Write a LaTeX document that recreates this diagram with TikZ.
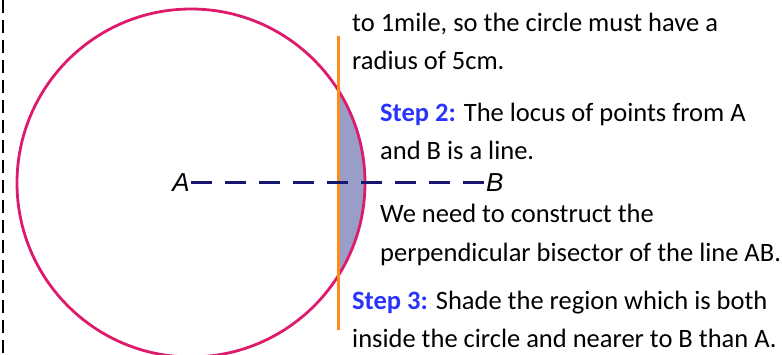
\documentclass[tikz,border=0pt]{standalone}
\usepackage{fontspec}
\setmainfont{Carlito}
\newfontfamily\labelfont{Liberation Sans}
\usetikzlibrary{positioning}

\definecolor{circpink}{RGB}{222,26,108}
\definecolor{bisorange}{RGB}{255,140,26}
\definecolor{shadeblue}{RGB}{152,158,200}
\definecolor{linenavy}{RGB}{22,22,112}
\definecolor{stepblue}{RGB}{40,52,250}

\tikzset{
  notes/.style={anchor=base west,inner sep=0pt,font=\fontsize{26.5}{30}\selectfont},
  ptlabel/.style={inner sep=1pt,font=\labelfont\itshape\fontsize{26}{30}\selectfont}
}

\begin{document}
\begin{tikzpicture}[x=1pt,y=-1pt]
  \useasboundingbox (0,0) rectangle (782,355);
  % margin line
  \draw[black,line width=2.6pt,dash pattern=on 13pt off 7pt] (3,0) -- (3,355);
  % points
  \node[ptlabel,anchor=east] (A) at (191,183) {A};
  \node[ptlabel,anchor=west] (B) at (485,183) {B};
  \coordinate (bistop) at (338,36);
  \coordinate (bisbot) at (338,330);
  % shaded region
  \begin{scope}
    \clip (338,0) rectangle (782,355);
    \fill[shadeblue] (A.east) circle (174pt);
  \end{scope}
  \draw[circpink,line width=2.8pt] (A.east) circle (174pt);
  \draw[bisorange,line width=3pt] (bistop) -- (bisbot);
  \draw[linenavy,line width=3pt,dash pattern=on 21pt off 13pt] (A.east) -- (B.west);
  % text
  \node[notes] (t1) at (352,32) {to 1mile, so the circle must have a};
  \node[notes] (t2) at (352,70) {radius of 5cm.};
  \node[notes] (t3) at (380,122) {\textcolor{stepblue}{\bfseries Step 2:} The locus of points from A};
  \node[notes] (t4) at (380,160) {and B is a line.};
  \node[notes] (t5) at (380,223) {We need to construct the};
  \node[notes] (t6) at (380,262) {perpendicular bisector of the line AB.};
  \node[notes] (t7) at (352,310) {\textcolor{stepblue}{\bfseries Step 3:} Shade the region which is both};
  \node[notes] (t8) at (352,348) {inside the circle and nearer to B than A.};
\end{tikzpicture}
\end{document}
